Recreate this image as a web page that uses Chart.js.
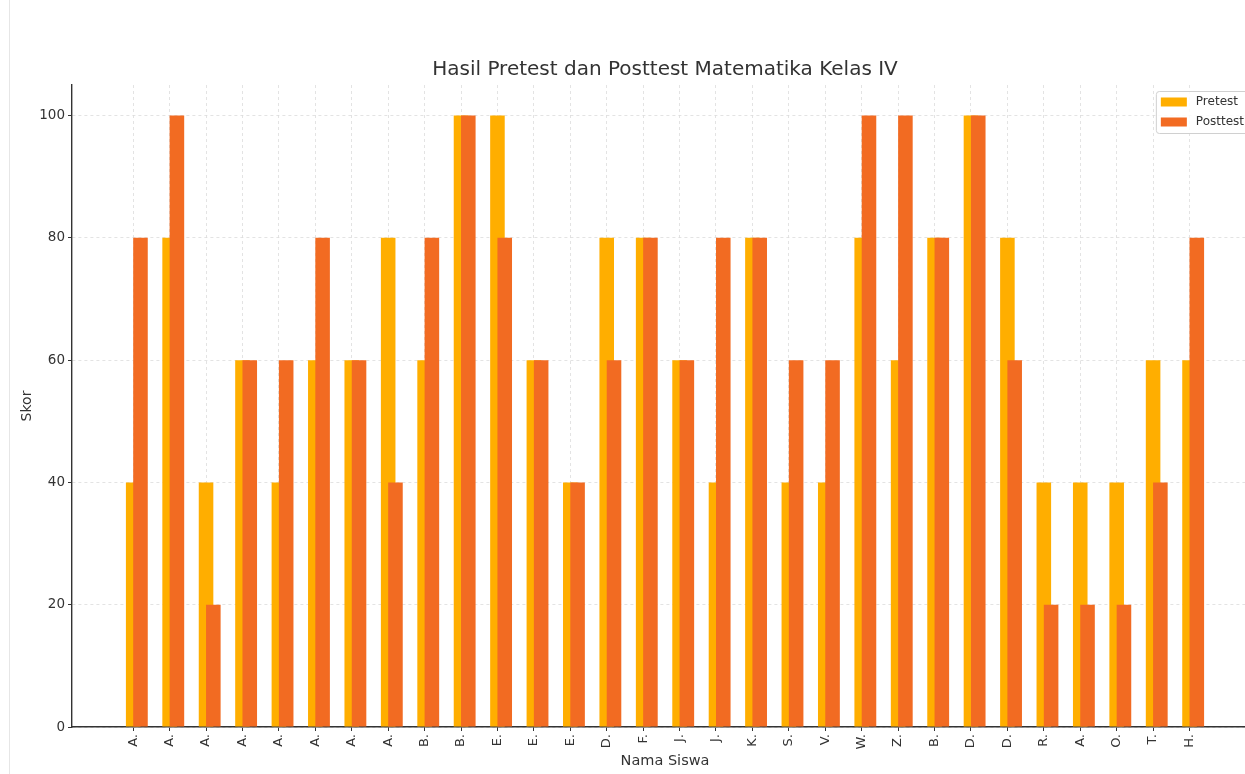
<!DOCTYPE html>
<html>
<head>
<meta charset="utf-8">
<title>Hasil Pretest dan Posttest Matematika Kelas IV</title>
<script src="https://cdn.jsdelivr.net/npm/chart.js@4.4.1/dist/chart.umd.min.js"></script>
<style>
  html, body { margin: 0; padding: 0; background: #fff; overflow: hidden; }
  #wrap { position: relative; width: 1330px; height: 774px; }
  #edge { position: absolute; left: 9px; top: 0; width: 1px; height: 774px; background: #e6e6e6; }
</style>
</head>
<body>
<div id="wrap">
  <canvas id="chart" width="1330" height="774"></canvas>
  <div id="edge"></div>
</div>
<script>
// Student initials, in chart order
const NAMES = ['A.', 'A.', 'A.', 'A.', 'A.', 'A.', 'A.', 'A.', 'B.', 'B.',
               'E.', 'E.', 'E.', 'D.', 'F.', 'J.', 'J.', 'K.', 'S.', 'V.',
               'W.', 'Z.', 'B.', 'D.', 'D.', 'R.', 'A.', 'O.', 'T.', 'H.'];
const PRETEST  = [40, 80, 40, 60, 40, 60, 60, 80, 60, 100,
                  100, 60, 40, 80, 80, 60, 40, 80, 40, 40,
                  80, 60, 80, 100, 80, 40, 40, 40, 60, 60];
const POSTTEST = [80, 100, 20, 60, 60, 80, 60, 40, 80, 100,
                  80, 60, 40, 60, 80, 60, 80, 80, 60, 60,
                  100, 100, 80, 100, 60, 20, 20, 20, 40, 80];
const Y_TICKS = [0, 20, 40, 60, 80, 100];

// bar layout like the original plot: width 0.4, posttest shifted by half a bar
const BAR_WIDTH = 0.4;
const BAR_SHIFT = BAR_WIDTH / 2;

const FONT = '"DejaVu Sans", sans-serif';
const INK  = '#333333';

// legend drawn inside the plot, top right
const legendBox = {
  id: 'legendBox',
  afterDraw(chart) {
    const { ctx, chartArea } = chart;
    const items = chart.data.datasets.map(d => ({ label: d.label, color: d.backgroundColor }));
    ctx.save();
    ctx.font = '12px ' + FONT;
    const textW = Math.max(...items.map(it => ctx.measureText(it.label).width));
    const w = 5 + 26 + 9 + textW + 5;
    const h = items.length * 20 + 2;
    const x = chartArea.right - 9 - w;
    const y = chartArea.top + 6;
    ctx.fillStyle = 'rgba(255,255,255,0.85)';
    ctx.strokeStyle = '#d0d0d0';
    ctx.lineWidth = 1;
    ctx.beginPath();
    ctx.roundRect(x + 0.5, y + 0.5, w, h, 3);
    ctx.fill();
    ctx.stroke();
    items.forEach((it, i) => {
      const cy = y + 11 + i * 20;
      ctx.fillStyle = it.color;
      ctx.fillRect(x + 5, cy - 4.5, 26, 9);
      ctx.fillStyle = INK;
      ctx.textBaseline = 'middle';
      ctx.textAlign = 'left';
      ctx.fillText(it.label, x + 40, cy);
    });
    ctx.restore();
  }
};

new Chart(document.getElementById('chart').getContext('2d'), {
  type: 'bar',
  data: {
    datasets: [
      {
        label: 'Pretest',
        data: PRETEST.map((v, i) => ({ x: i, y: v })),
        backgroundColor: '#FFAE00',
        grouped: false,
        order: 2,
      },
      {
        label: 'Posttest',
        data: POSTTEST.map((v, i) => ({ x: i + BAR_SHIFT, y: v })),
        backgroundColor: '#F26B22',
        grouped: false,
        order: 1,
      },
    ],
  },
  options: {
    responsive: false,
    animation: false,
    // bar width = smallest gap (the 0.2 shift) * 2 = 0.4 units
    categoryPercentage: 1,
    barPercentage: BAR_WIDTH / BAR_SHIFT,
    borderWidth: 0,
    layout: { padding: { left: 0, right: 72, top: 0, bottom: 0 } },
    plugins: {
      legend: { display: false },
      tooltip: { enabled: false },
      title: {
        display: true,
        text: 'Hasil Pretest dan Posttest Matematika Kelas IV',
        fullSize: false,
        color: INK,
        font: { family: FONT, size: 20, weight: 'normal' },
        padding: { top: 58, bottom: 3 },
      },
    },
    scales: {
      x: {
        type: 'linear',
        min: -1.68,
        max: 30.88,
        offset: false,
        afterBuildTicks: s => { s.ticks = NAMES.map((_, i) => ({ value: i })); },
        afterFit: s => { s.height = 47; },
        ticks: {
          autoSkip: false,
          maxRotation: 90,
          minRotation: 90,
          padding: 3,
          color: INK,
          font: { family: FONT, size: 13 },
          callback: v => NAMES[v],
        },
        grid: {
          offset: false,
          color: '#dcdcdc',
          lineWidth: 0.8,
          tickLength: 4,
          tickColor: INK,
          tickWidth: 1,
          tickBorderDash: [],
        },
        border: { display: true, color: INK, width: 1.4, dash: [3, 3] },
        title: {
          display: true,
          text: 'Nama Siswa',
          color: INK,
          font: { family: FONT, size: 14.5 },
          padding: { top: 0, bottom: 4 },
        },
      },
      y: {
        min: 0,
        max: 105,
        afterBuildTicks: s => { s.ticks = Y_TICKS.map(v => ({ value: v })); },
        afterFit: s => { s.width = 72; },
        ticks: {
          padding: 3,
          color: INK,
          font: { family: FONT, size: 13.5 },
        },
        grid: {
          color: '#dcdcdc',
          lineWidth: 0.8,
          tickLength: 4,
          tickColor: INK,
          tickWidth: 1,
          tickBorderDash: [],
        },
        border: { display: true, color: INK, width: 1.4, dash: [3, 3] },
        title: {
          display: true,
          text: 'Skor',
          color: INK,
          font: { family: FONT, size: 14 },
          padding: { top: 19, bottom: 0 },
        },
      },
    },
  },
  plugins: [legendBox],
});
</script>
</body>
</html>
